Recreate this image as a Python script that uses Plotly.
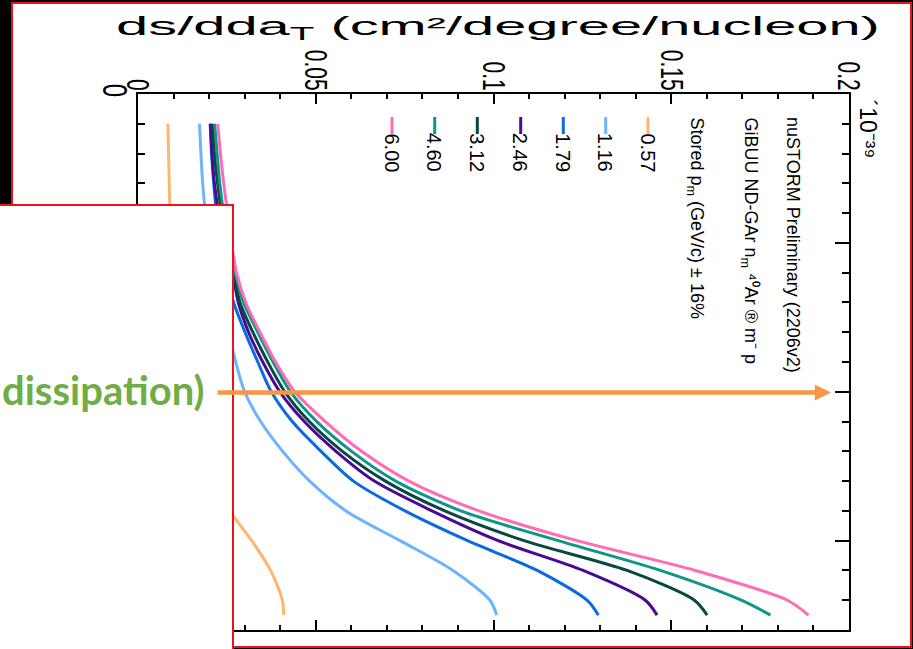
import plotly.graph_objects as go

# ---------------- data (cross section in units of 1e-39 cm^2/degree/nucleon) -------------
angle = [10, 20, 30, 40, 50, 60, 70, 80, 90, 100, 110, 120, 130, 140, 150, 160, 170, 175]

xs_057 = [0.0084, 0.0086, 0.0088, 0.0090, 0.0094, 0.0100, 0.0106, 0.0114, 0.0125, 0.0139,
          0.0159, 0.0185, 0.0215, 0.0258, 0.0320, 0.0373, 0.0406, 0.0410]
xs_116 = [0.0173, 0.0177, 0.0182, 0.0190, 0.0203, 0.0221, 0.0238, 0.0255, 0.0275, 0.0300,
          0.0345, 0.0407, 0.0483, 0.0585, 0.0737, 0.0886, 0.0990, 0.1009]
xs_179 = [0.0203, 0.0207, 0.0213, 0.0221, 0.0232, 0.0246, 0.0269, 0.0301, 0.0337, 0.0375,
          0.0434, 0.0515, 0.0606, 0.0751, 0.0927, 0.1123, 0.1263, 0.1295]
xs_246 = [0.0204, 0.0208, 0.0215, 0.0227, 0.0244, 0.0266, 0.0282, 0.0311, 0.0351, 0.0399,
          0.0468, 0.0557, 0.0665, 0.0827, 0.1013, 0.1252, 0.1427, 0.1460]
xs_312 = [0.0210, 0.0215, 0.0224, 0.0235, 0.0250, 0.0269, 0.0287, 0.0323, 0.0365, 0.0413,
          0.0482, 0.0575, 0.0696, 0.0863, 0.1086, 0.1376, 0.1565, 0.1601]
xs_460 = [0.02155, 0.02225, 0.0230, 0.0241, 0.0255, 0.0273, 0.0297, 0.0337, 0.0380, 0.0429,
          0.0503, 0.0601, 0.0725, 0.0908, 0.1182, 0.1469, 0.1697, 0.1779]
xs_600 = [0.0224, 0.0232, 0.0241, 0.0252, 0.0263, 0.0277, 0.0303, 0.0343, 0.0387, 0.0441,
          0.0527, 0.0629, 0.0762, 0.0959, 0.1235, 0.1568, 0.1827, 0.1886]

momenta = ["0.57", "1.16", "1.79", "2.46", "3.12", "4.60", "6.00"]
series = [xs_057, xs_116, xs_179, xs_246, xs_312, xs_460, xs_600]
colors = ["#FFB570", "#6CB4FF", "#0A6BE0", "#4B0896", "#07483F", "#0E968A", "#FF6BB5"]

x_tickvals = [0, 0.05, 0.1, 0.15, 0.2]
x_ticktext = ["0", "0.05", "0.1", "0.15", "0.2"]
y_tickvals = [0, 50, 100, 150]
y_ticktext = ["0", "50", "100", "150"]

title_text = "ds/dda<sub>T</sub> (cm²/degree/nucleon)"
exp_text = "´10⁻³⁹"
header_lines = ["nuSTORM Preliminary (2206v2)",
                "GiBUU ND-GAr n<sub>m</sub> ⁴⁰Ar ® m⁻ p",
                "Stored p<sub>m</sub> (GeV/c) ± 16%"]
overlay_text = "dissipation)"

# ---------------- layout geometry -------------
W, H = 913, 649
L, R, T, B = 138, 64, 94, 19
PW, PH = W - L - R, H - T - B


def px(x):
    return (x - L) / PW


def py(y):
    return 1 - (y - T) / PH


fig = go.Figure()
for name, xs, col in zip(momenta, series, colors):
    fig.add_trace(go.Scatter(x=xs, y=angle, mode="lines", name=name,
                             line=dict(color=col, width=3, shape="spline", smoothing=0.8),
                             showlegend=False, hoverinfo="skip"))

shapes = [
    dict(type="rect", xref="paper", yref="paper", x0=px(12), x1=px(911), y0=py(3), y1=py(647),
         fillcolor="white", line=dict(color="#E8141B", width=2), layer="below"),
    dict(type="rect", xref="paper", yref="paper", x0=px(-6), x1=px(233), y0=py(205), y1=py(653),
         fillcolor="white", line=dict(color="#E8141B", width=2), layer="above"),
]
key_x = [648, 605.7, 563.3, 520.7, 477.3, 434.7, 392]
for kx, col in zip(key_x, colors):
    shapes.append(dict(type="line", xref="paper", yref="paper", x0=px(kx), x1=px(kx),
                       y0=py(117), y1=py(134), line=dict(color=col, width=3), layer="above"))

ann = []
ann.append(dict(text=title_text, xref="paper", yref="paper", x=px(114), y=py(28),
                xanchor="left", yanchor="middle", showarrow=False,
                font=dict(family="Liberation Sans, Arial", size=25, color="black")))
ann.append(dict(text=exp_text, xref="paper", yref="paper", x=px(868), y=py(97),
                xanchor="center", yanchor="top", showarrow=False, textangle=90,
                font=dict(family="Liberation Sans, Arial", size=23, color="black")))
head_x = [793, 749, 695]
for hx, txt in zip(head_x, header_lines):
    ann.append(dict(text=txt, xref="paper", yref="paper", x=px(hx), y=py(115),
                    xanchor="center", yanchor="top", showarrow=False, textangle=90,
                    font=dict(family="Liberation Sans, Arial", size=18, color="black")))
for kx, m in zip(key_x, momenta):
    ann.append(dict(text=m, xref="paper", yref="paper", x=px(kx), y=py(131),
                    xanchor="center", yanchor="top", showarrow=False, textangle=90,
                    font=dict(family="Liberation Sans, Arial", size=20, color="black")))
ann.append(dict(text=overlay_text, xref="paper", yref="paper", x=px(207), y=py(390),
                xanchor="right", yanchor="middle", showarrow=False,
                font=dict(family="Lato", size=40, color="#70AD47", weight="bold")))
ann.append(dict(text="", xref="paper", yref="paper", x=px(831), y=py(392.5),
                ax=-(831 - 216), ay=0, axref="pixel", ayref="pixel", showarrow=True,
                arrowhead=2, arrowsize=0.72, arrowwidth=4.5, arrowcolor="#F79646"))

fig.update_layout(
    width=W, height=H,
    margin=dict(l=L, r=R, t=T, b=B, pad=0),
    paper_bgcolor="black", plot_bgcolor="white",
    font=dict(family="Liberation Sans, Arial", color="black"),
    showlegend=False,
    shapes=shapes, annotations=ann,
    xaxis=dict(range=[0, 0.2], side="top", showline=True, linecolor="black", linewidth=2,
               mirror="ticks", ticks="inside", ticklen=10, tickwidth=1.5, tickcolor="black",
               tickvals=x_tickvals, ticktext=x_ticktext, tickangle=90,
               tickfont=dict(size=21, color="black"), showgrid=False, zeroline=False,
               minor=dict(dtick=0.01, tick0=0, ticks="inside", ticklen=5, tickwidth=1.5,
                          tickcolor="black", showgrid=False)),
    yaxis=dict(range=[180, 0], showline=True, linecolor="black", linewidth=2,
               mirror="ticks", ticks="inside", ticklen=14, tickwidth=1.5, tickcolor="black",
               tickvals=y_tickvals, ticktext=y_ticktext, tickangle=90,
               tickfont=dict(size=24, color="black"), showgrid=False, zeroline=False,
               ticklabelstandoff=0,
               minor=dict(dtick=10, tick0=0, ticks="inside", ticklen=7, tickwidth=1.5,
                          tickcolor="black", showgrid=False)),
)

post = """
document.body.style.margin = '0';
document.body.style.background = 'black';
var gd = document.getElementById('{plot_id}');
function widen(g, sx, dy){
  if (g.getAttribute('data-orig-tr') === null) {
    g.setAttribute('data-orig-tr', g.getAttribute('transform') || '');
  }
  var orig = g.getAttribute('data-orig-tr');
  g.setAttribute('transform', orig);
  var bb = g.getBBox();
  var cx = bb.x + bb.width / 2;
  g.setAttribute('transform', 'translate(' + cx + ',' + dy + ') scale(' + sx + ',1) translate(' + (-cx) + ',0) ' + orig);
}
function adjust(){
  var ts = gd.querySelectorAll('text.annotation-text');
  for (var i = 0; i < ts.length; i++) {
    var t = ts[i];
    if (t.textContent.indexOf('ds/dda') === 0) {
      t.removeAttribute('transform');
      var bb = t.getBBox();
      if (bb.width > 0) {
        var sx = 764 / bb.width;
        t.setAttribute('transform', 'translate(' + bb.x + ',0) scale(' + sx + ',1) translate(' + (-bb.x) + ',0)');
      }
    }
  }
  var xt = gd.querySelectorAll('g.xaxislayer-above g.xtick');
  for (var j = 0; j < xt.length; j++) { widen(xt[j], 1.5, 6); }
  var yt = gd.querySelectorAll('g.yaxislayer-above g.ytick');
  for (var k = 0; k < yt.length; k++) { widen(yt[k], 1.5, 0); }
}
adjust();
setTimeout(adjust, 50);
if (gd.on) { gd.on('plotly_afterplot', adjust); }
"""

fig.write_html("out.html", post_script=post, config={"displayModeBar": False})
